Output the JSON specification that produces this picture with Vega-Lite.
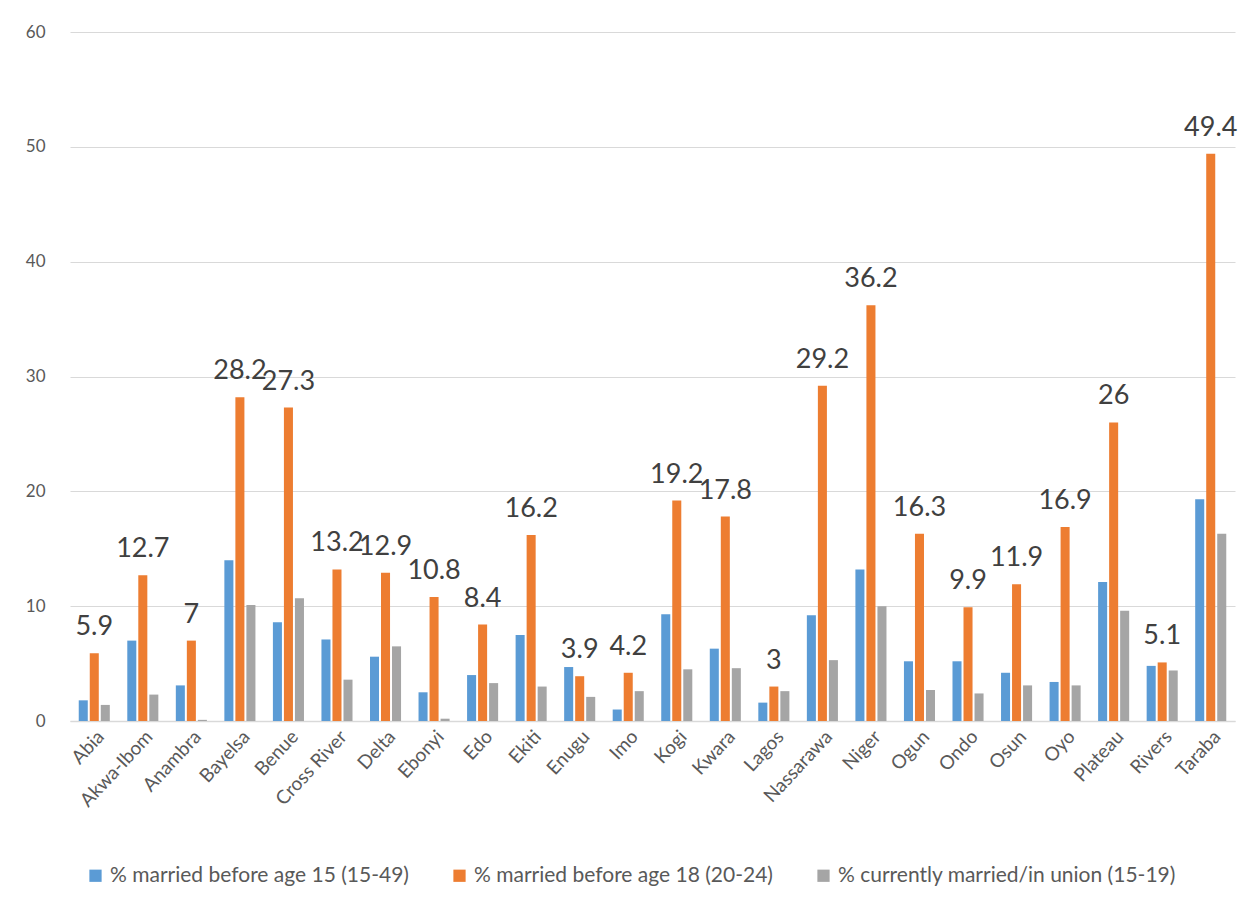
{
  "$schema": "https://vega.github.io/schema/vega-lite/v6.json",
  "width": 1165,
  "height": 689,
  "autosize": {"type": "none"},
  "padding": {"left": 70, "top": 32, "right": 17, "bottom": 190},
  "background": "white",
  "config": {
    "view": {"stroke": null},
    "font": "Lato",
    "axis": {"labelFont": "Lato", "labelColor": "#595959"},
    "legend": {"labelFont": "Lato"}
  },
  "data": {
    "values": [
      {"state": "Abia", "series": "% married before age 15 (15-49)", "value": 1.8},
      {"state": "Abia", "series": "% married before age 18 (20-24)", "value": 5.9},
      {"state": "Abia", "series": "% currently married/in union (15-19)", "value": 1.4},
      {"state": "Akwa-Ibom", "series": "% married before age 15 (15-49)", "value": 7.0},
      {"state": "Akwa-Ibom", "series": "% married before age 18 (20-24)", "value": 12.7},
      {"state": "Akwa-Ibom", "series": "% currently married/in union (15-19)", "value": 2.3},
      {"state": "Anambra", "series": "% married before age 15 (15-49)", "value": 3.1},
      {"state": "Anambra", "series": "% married before age 18 (20-24)", "value": 7},
      {"state": "Anambra", "series": "% currently married/in union (15-19)", "value": 0.1},
      {"state": "Bayelsa", "series": "% married before age 15 (15-49)", "value": 14.0},
      {"state": "Bayelsa", "series": "% married before age 18 (20-24)", "value": 28.2},
      {"state": "Bayelsa", "series": "% currently married/in union (15-19)", "value": 10.1},
      {"state": "Benue", "series": "% married before age 15 (15-49)", "value": 8.6},
      {"state": "Benue", "series": "% married before age 18 (20-24)", "value": 27.3},
      {"state": "Benue", "series": "% currently married/in union (15-19)", "value": 10.7},
      {"state": "Cross River", "series": "% married before age 15 (15-49)", "value": 7.1},
      {"state": "Cross River", "series": "% married before age 18 (20-24)", "value": 13.2},
      {"state": "Cross River", "series": "% currently married/in union (15-19)", "value": 3.6},
      {"state": "Delta", "series": "% married before age 15 (15-49)", "value": 5.6},
      {"state": "Delta", "series": "% married before age 18 (20-24)", "value": 12.9},
      {"state": "Delta", "series": "% currently married/in union (15-19)", "value": 6.5},
      {"state": "Ebonyi", "series": "% married before age 15 (15-49)", "value": 2.5},
      {"state": "Ebonyi", "series": "% married before age 18 (20-24)", "value": 10.8},
      {"state": "Ebonyi", "series": "% currently married/in union (15-19)", "value": 0.2},
      {"state": "Edo", "series": "% married before age 15 (15-49)", "value": 4.0},
      {"state": "Edo", "series": "% married before age 18 (20-24)", "value": 8.4},
      {"state": "Edo", "series": "% currently married/in union (15-19)", "value": 3.3},
      {"state": "Ekiti", "series": "% married before age 15 (15-49)", "value": 7.5},
      {"state": "Ekiti", "series": "% married before age 18 (20-24)", "value": 16.2},
      {"state": "Ekiti", "series": "% currently married/in union (15-19)", "value": 3.0},
      {"state": "Enugu", "series": "% married before age 15 (15-49)", "value": 4.7},
      {"state": "Enugu", "series": "% married before age 18 (20-24)", "value": 3.9},
      {"state": "Enugu", "series": "% currently married/in union (15-19)", "value": 2.1},
      {"state": "Imo", "series": "% married before age 15 (15-49)", "value": 1.0},
      {"state": "Imo", "series": "% married before age 18 (20-24)", "value": 4.2},
      {"state": "Imo", "series": "% currently married/in union (15-19)", "value": 2.6},
      {"state": "Kogi", "series": "% married before age 15 (15-49)", "value": 9.3},
      {"state": "Kogi", "series": "% married before age 18 (20-24)", "value": 19.2},
      {"state": "Kogi", "series": "% currently married/in union (15-19)", "value": 4.5},
      {"state": "Kwara", "series": "% married before age 15 (15-49)", "value": 6.3},
      {"state": "Kwara", "series": "% married before age 18 (20-24)", "value": 17.8},
      {"state": "Kwara", "series": "% currently married/in union (15-19)", "value": 4.6},
      {"state": "Lagos", "series": "% married before age 15 (15-49)", "value": 1.6},
      {"state": "Lagos", "series": "% married before age 18 (20-24)", "value": 3},
      {"state": "Lagos", "series": "% currently married/in union (15-19)", "value": 2.6},
      {"state": "Nassarawa", "series": "% married before age 15 (15-49)", "value": 9.2},
      {"state": "Nassarawa", "series": "% married before age 18 (20-24)", "value": 29.2},
      {"state": "Nassarawa", "series": "% currently married/in union (15-19)", "value": 5.3},
      {"state": "Niger", "series": "% married before age 15 (15-49)", "value": 13.2},
      {"state": "Niger", "series": "% married before age 18 (20-24)", "value": 36.2},
      {"state": "Niger", "series": "% currently married/in union (15-19)", "value": 10.0},
      {"state": "Ogun", "series": "% married before age 15 (15-49)", "value": 5.2},
      {"state": "Ogun", "series": "% married before age 18 (20-24)", "value": 16.3},
      {"state": "Ogun", "series": "% currently married/in union (15-19)", "value": 2.7},
      {"state": "Ondo", "series": "% married before age 15 (15-49)", "value": 5.2},
      {"state": "Ondo", "series": "% married before age 18 (20-24)", "value": 9.9},
      {"state": "Ondo", "series": "% currently married/in union (15-19)", "value": 2.4},
      {"state": "Osun", "series": "% married before age 15 (15-49)", "value": 4.2},
      {"state": "Osun", "series": "% married before age 18 (20-24)", "value": 11.9},
      {"state": "Osun", "series": "% currently married/in union (15-19)", "value": 3.1},
      {"state": "Oyo", "series": "% married before age 15 (15-49)", "value": 3.4},
      {"state": "Oyo", "series": "% married before age 18 (20-24)", "value": 16.9},
      {"state": "Oyo", "series": "% currently married/in union (15-19)", "value": 3.1},
      {"state": "Plateau", "series": "% married before age 15 (15-49)", "value": 12.1},
      {"state": "Plateau", "series": "% married before age 18 (20-24)", "value": 26},
      {"state": "Plateau", "series": "% currently married/in union (15-19)", "value": 9.6},
      {"state": "Rivers", "series": "% married before age 15 (15-49)", "value": 4.8},
      {"state": "Rivers", "series": "% married before age 18 (20-24)", "value": 5.1},
      {"state": "Rivers", "series": "% currently married/in union (15-19)", "value": 4.4},
      {"state": "Taraba", "series": "% married before age 15 (15-49)", "value": 19.3},
      {"state": "Taraba", "series": "% married before age 18 (20-24)", "value": 49.4},
      {"state": "Taraba", "series": "% currently married/in union (15-19)", "value": 16.3}
    ]
  },
  "encoding": {
    "x": {
      "field": "state", "type": "nominal", "sort": null,
      "scale": {"paddingInner": 0.36, "paddingOuter": 0.18},
      "axis": {"title": null, "labelAngle": -47, "labelFontSize": 19, "labelAlign": "right", "labelBaseline": "top", "labelPadding": 6, "ticks": false, "domainColor": "#d9d9d9", "domainWidth": 1.5, "grid": false}
    },
    "xOffset": {
      "field": "series", "type": "nominal",
      "sort": ["% married before age 15 (15-49)", "% married before age 18 (20-24)", "% currently married/in union (15-19)"],
      "scale": {"paddingInner": 0.18}
    },
    "y": {
      "field": "value", "type": "quantitative",
      "scale": {"domain": [0, 60]},
      "axis": {"title": null, "values": [0, 10, 20, 30, 40, 50, 60], "labelFontSize": 17, "labelPadding": 25, "ticks": false, "domain": false, "gridColor": "#d9d9d9", "gridWidth": 1.2}
    }
  },
  "layer": [
    {
      "mark": {"type": "bar"},
      "encoding": {
        "color": {
          "field": "series", "type": "nominal",
          "sort": ["% married before age 15 (15-49)", "% married before age 18 (20-24)", "% currently married/in union (15-19)"],
          "scale": {"range": ["#5B9BD5", "#ED7D31", "#A5A5A5"]},
          "legend": {
            "title": null, "orient": "none", "direction": "horizontal",
            "legendX": 15, "legendY": 833,
            "symbolType": "square", "symbolSize": 150, "symbolStrokeWidth": 0,
            "labelFontSize": 21, "labelColor": "#595959", "columnPadding": 40, "labelLimit": 500
          }
        }
      }
    },
    {
      "transform": [{"filter": "datum.series === '% married before age 18 (20-24)'"}],
      "mark": {"type": "text", "fontSize": 27, "color": "#404040", "baseline": "bottom", "dy": -12},
      "encoding": {
        "text": {"field": "value", "type": "quantitative"}
      }
    }
  ]
}
